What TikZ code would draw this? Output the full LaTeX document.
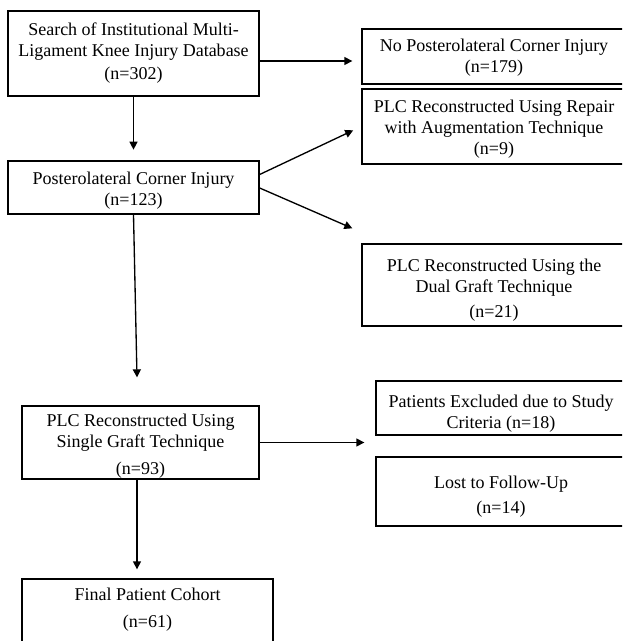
\documentclass[tikz,border=0pt]{standalone}
\usepackage{fontspec}
\setmainfont{Liberation Serif}
\usetikzlibrary{arrows.meta,calc}
\begin{document}
\begin{tikzpicture}[x=0.75pt,y=-0.75pt,
  box/.style={draw, line width=1pt, inner sep=0pt},
  txt/.style={inner sep=0pt, align=center, font=\fontsize{13.5pt}{15.75pt}\selectfont},
  arr/.style={line width=1pt, -{Triangle[length=6pt,width=6pt]}}]
\useasboundingbox (0,0) rectangle (622,641);
\clip (0,0) rectangle (622,641);
% boxes
\node[box, minimum width={251*0.75pt}, minimum height={85*0.75pt}] (b1) at (133.5,53.5) {};
\node[box, minimum width={251*0.75pt}, minimum height={53*0.75pt}] (b2) at (133.5,187.5) {};
\node[box, minimum width={264*0.75pt}, minimum height={55*0.75pt}] (np) at (494,56.5) {};
\node[box, minimum width={264*0.75pt}, minimum height={75*0.75pt}] (rep) at (494,126.5) {};
\node[box, minimum width={264*0.75pt}, minimum height={82*0.75pt}] (dual) at (494,285) {};
\node[box, minimum width={237*0.75pt}, minimum height={73*0.75pt}] (sg) at (140.5,442.5) {};
\node[box, minimum width={250*0.75pt}, minimum height={54*0.75pt}] (ex) at (501,408) {};
\node[box, minimum width={250*0.75pt}, minimum height={69*0.75pt}] (lost) at (501,491.5) {};
\node[box, minimum width={251*0.75pt}, minimum height={71*0.75pt}] (fin) at (147.5,614.5) {};
% texts
\node[txt] (b1t) at ($(b1)+(0,0)$)
  {Search of Institutional Multi-\\Ligament Knee Injury Database\\[1.5pt](n=302)};
\node[txt] (b2t) at ($(b2)+(0,3.5)$) {Posterolateral Corner Injury\\(n=123)};
\node[txt] (npt) at ($(np)+(0,1)$) {No Posterolateral Corner Injury\\(n=179)};
\node[txt] (rept) at ($(rep)+(0,3)$)
  {PLC Reconstructed Using Repair\\with Augmentation Technique\\(n=9)};
\node[txt] (dualt) at ($(dual)+(0,5.5)$)
  {PLC Reconstructed Using the\\Dual Graft Technique\\[3pt](n=21)};
\node[txt] (sgt) at ($(sg)+(0,4)$)
  {PLC Reconstructed Using\\Single Graft Technique\\[4.5pt](n=93)};
\node[txt] (ext) at ($(ex)+(0,5.5)$) {Patients Excluded due to Study\\Criteria (n=18)};
\node[txt] (lostt) at ($(lost)+(0,5.5)$) {Lost to Follow-Up\\[3pt](n=14)};
\node[txt] (fint) at ($(fin)+(0,-4.5)$) {Final Patient Cohort\\[4.5pt](n=61)};
% connectors
\draw[arr, shorten >=8pt] (b1.south) -- (b2.north);
\coordinate (a1) at ($(b1.east)+(0,7.5)$);
\draw[arr, shorten >=6.75pt] (a1) -- (a1 -| np.west);
\draw[arr, shorten >=6.75pt] ($(b2.east)+(0,-13)$) -- (rep.west);
\draw[arr] ($(b2.east)+(0,0.5)$) -- ($(dual.north west)+(-9,-15)$);
\draw[arr] (b2.south) -- ($(sg.north)+(-3.5,-28)$);
\draw[arr, shorten >=8.25pt] (sg.east) -- (sg.east -| ex.west);
\draw[arr] ($(sg.south)+(-3.5,0)$) -- ($(fin.north)+(-10.5,-9)$);
\end{tikzpicture}
\end{document}
